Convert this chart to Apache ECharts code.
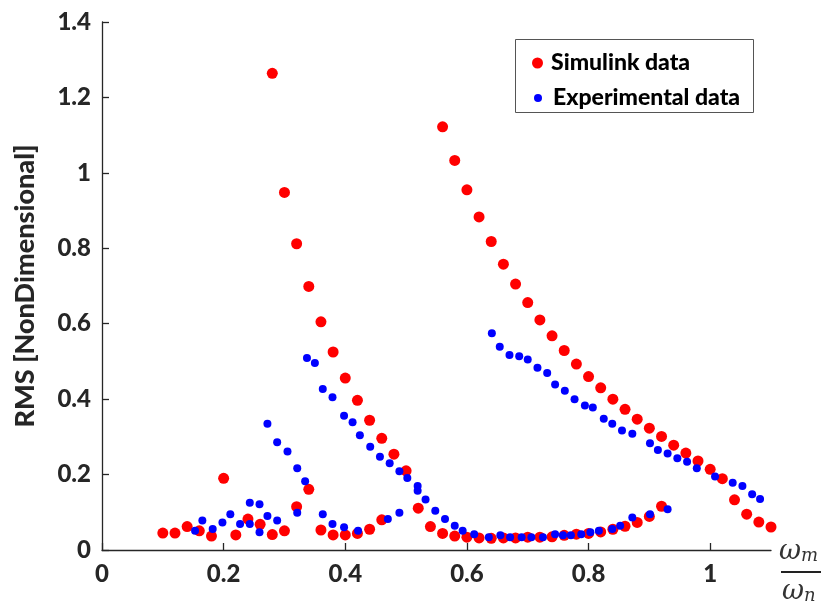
<!DOCTYPE html>
<html>
<head>
<meta charset="utf-8">
<script src="https://cdn.jsdelivr.net/npm/echarts@6/dist/echarts.min.js"></script>
<style>
  html, body { margin: 0; padding: 0; background: #fff; }
  #main { width: 821px; height: 608px; }
</style>
</head>
<body>
<div id="main"></div>
<script>
// tick labels
var xTicks = [0, 0.2, 0.4, 0.6, 0.8, 1];
var yTicks = [0, 0.2, 0.4, 0.6, 0.8, 1, 1.2, 1.4];

// Simulink data (red) - low branch, branch from 0.28, branch from 0.56
var simulinkX = [
  0.10, 0.12, 0.14, 0.16, 0.18, 0.20, 0.22, 0.24, 0.26, 0.28, 0.30, 0.32, 0.34, 0.36, 0.38, 0.40, 0.42, 0.44, 0.46,
  0.28, 0.30, 0.32, 0.34, 0.36, 0.38, 0.40, 0.42, 0.44, 0.46, 0.48, 0.50, 0.52, 0.54, 0.56, 0.58, 0.60, 0.62, 0.64,
  0.66, 0.68, 0.70, 0.72, 0.74, 0.76, 0.78, 0.80, 0.82, 0.84, 0.86, 0.88, 0.90, 0.92,
  0.56, 0.58, 0.60, 0.62, 0.64, 0.66, 0.68, 0.70, 0.72, 0.74, 0.76, 0.78, 0.80, 0.82, 0.84, 0.86, 0.88, 0.90, 0.92,
  0.94, 0.96, 0.98, 1.00, 1.02, 1.04, 1.06, 1.08, 1.10
];
var simulinkY = [
  0.045, 0.045, 0.062, 0.051, 0.037, 0.190, 0.040, 0.082, 0.068, 0.041, 0.051, 0.115, 0.161, 0.053, 0.040, 0.040, 0.044, 0.055, 0.080,
  1.264, 0.948, 0.812, 0.699, 0.605, 0.525, 0.456, 0.397, 0.344, 0.296, 0.254, 0.210, 0.111, 0.062, 0.044, 0.037, 0.034, 0.032, 0.031,
  0.032, 0.032, 0.034, 0.034, 0.035, 0.039, 0.042, 0.044, 0.048, 0.055, 0.063, 0.073, 0.089, 0.116,
  1.122, 1.033, 0.955, 0.883, 0.818, 0.758, 0.705, 0.656, 0.610, 0.568, 0.529, 0.493, 0.460, 0.430, 0.400, 0.373, 0.347, 0.323, 0.301,
  0.278, 0.257, 0.236, 0.214, 0.189, 0.133, 0.095, 0.074, 0.061
];

// Experimental data (blue)
var experimentalX = [
  0.153, 0.165, 0.182, 0.198, 0.211, 0.227, 0.243, 0.243, 0.259, 0.259, 0.272, 0.272, 0.288, 0.288, 0.305, 0.321, 0.321,
  0.334, 0.337, 0.350, 0.363, 0.363, 0.379, 0.379, 0.398, 0.398, 0.412, 0.421, 0.424, 0.441, 0.457, 0.470, 0.473, 0.489,
  0.489, 0.502, 0.519, 0.519, 0.532, 0.548, 0.564, 0.580, 0.593, 0.612, 0.636, 0.641, 0.654, 0.655, 0.670, 0.671, 0.686,
  0.690, 0.700, 0.706, 0.716, 0.725, 0.732, 0.745, 0.745, 0.758, 0.761, 0.771, 0.777, 0.788, 0.794, 0.803, 0.807, 0.817,
  0.825, 0.839, 0.839, 0.852, 0.855, 0.872, 0.872, 0.901, 0.901, 0.914, 0.930, 0.930, 0.946, 0.962, 0.978, 1.008, 1.037,
  1.053, 1.069, 1.082
];
var experimentalY = [
  0.051, 0.078, 0.056, 0.073, 0.095, 0.069, 0.125, 0.069, 0.121, 0.047, 0.090, 0.335, 0.286, 0.078, 0.261, 0.217, 0.099,
  0.182, 0.509, 0.496, 0.427, 0.095, 0.405, 0.069, 0.356, 0.060, 0.339, 0.051, 0.304, 0.274, 0.247, 0.082, 0.230, 0.209,
  0.099, 0.191, 0.170, 0.157, 0.134, 0.104, 0.082, 0.064, 0.051, 0.042, 0.034, 0.575, 0.539, 0.039, 0.517, 0.034, 0.514,
  0.034, 0.505, 0.034, 0.483, 0.034, 0.469, 0.439, 0.042, 0.039, 0.422, 0.039, 0.400, 0.042, 0.383, 0.047, 0.378, 0.051,
  0.348, 0.335, 0.056, 0.064, 0.317, 0.308, 0.086, 0.283, 0.095, 0.265, 0.256, 0.108, 0.243, 0.234, 0.217, 0.195, 0.178,
  0.170, 0.148, 0.135
];

function pairs(xs, ys) {
  return xs.map(function (x, i) { return [x, ys[i]]; });
}

var font = 'Lato';
var ink = '#262626';

var chart = echarts.init(document.getElementById('main'), null, { renderer: 'canvas' });
chart.setOption({
  animation: false,
  backgroundColor: '#fff',
  grid: { left: 102, right: 50, top: 22, bottom: 58 },
  xAxis: {
    type: 'value',
    min: 0,
    max: 1.1,
    interval: 0.2,
    splitLine: { show: false },
    axisLine: { lineStyle: { color: ink, width: 1.3 } },
    axisTick: { inside: true, length: 7, customValues: xTicks, lineStyle: { color: ink, width: 1.3 } },
    axisLabel: { customValues: xTicks, margin: 12, color: ink, fontFamily: font, fontWeight: 900, fontSize: 24 }
  },
  yAxis: {
    type: 'value',
    min: 0,
    max: 1.4,
    interval: 0.2,
    name: 'RMS [NonDimensional]',
    nameLocation: 'middle',
    nameGap: 63,
    nameTextStyle: { color: ink, fontFamily: font, fontWeight: 900, fontSize: 27 },
    splitLine: { show: false },
    axisLine: { lineStyle: { color: ink, width: 1.3 } },
    axisTick: { inside: true, length: 7, customValues: yTicks, lineStyle: { color: ink, width: 1.3 } },
    axisLabel: { customValues: yTicks, margin: 11, color: ink, fontFamily: font, fontWeight: 900, fontSize: 24 }
  },
  legend: [
    {
      data: ['Simulink data'],
      left: 527, top: 46,
      icon: 'circle', itemWidth: 11, itemHeight: 11,
      textStyle: { color: '#000', fontFamily: font, fontWeight: 900, fontSize: 23, lineHeight: 24, padding: [0, 0, 0, 3] }
    },
    {
      data: ['Experimental data'],
      left: 529, top: 81,
      icon: 'circle', itemWidth: 8, itemHeight: 8,
      textStyle: { color: '#000', fontFamily: font, fontWeight: 900, fontSize: 23, lineHeight: 24, padding: [0, 0, 0, 6] }
    }
  ],
  graphic: [
    {
      type: 'rect', left: 515, top: 39, z: 0,
      shape: { width: 238, height: 73 },
      style: { fill: '#fff', stroke: '#555', lineWidth: 1 }
    },
    {
      type: 'text', left: 779, top: 538,
      style: {
        text: '{w|ω}{s|m}',
        rich: {
          w: { fontFamily: 'DejaVu Serif', fontStyle: 'italic', fontSize: 27, fill: '#333' },
          s: { fontFamily: 'DejaVu Serif', fontStyle: 'italic', fontSize: 18, fill: '#333', padding: [10, 0, 0, 0] }
        }
      }
    },
    {
      type: 'rect', left: 781, top: 571,
      shape: { width: 40, height: 2 },
      style: { fill: '#222' }
    },
    {
      type: 'text', left: 782, top: 578,
      style: {
        text: '{w|ω}{s|n}',
        rich: {
          w: { fontFamily: 'DejaVu Serif', fontStyle: 'italic', fontSize: 27, fill: '#333' },
          s: { fontFamily: 'DejaVu Serif', fontStyle: 'italic', fontSize: 18, fill: '#333', padding: [10, 0, 0, 0] }
        }
      }
    }
  ],
  series: [
    {
      name: 'Simulink data',
      type: 'scatter',
      symbolSize: 11,
      itemStyle: { color: '#ff0000', opacity: 1 },
      data: pairs(simulinkX, simulinkY)
    },
    {
      name: 'Experimental data',
      type: 'scatter',
      symbolSize: 8,
      itemStyle: { color: '#0000ff', opacity: 1 },
      data: pairs(experimentalX, experimentalY)
    }
  ]
});
</script>
</body>
</html>
